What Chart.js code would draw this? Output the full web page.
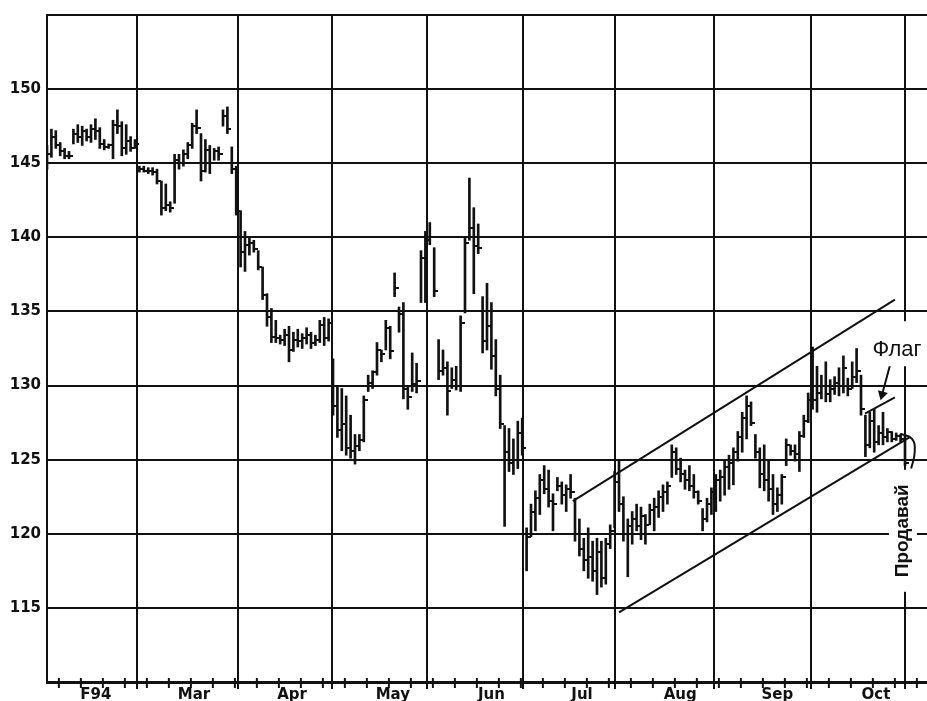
<!DOCTYPE html>
<html><head><meta charset="utf-8">
<script src="https://cdn.jsdelivr.net/npm/chart.js@4.4.0/dist/chart.umd.min.js"></script>
<style>html,body{margin:0;padding:0;background:#fff;overflow:hidden}canvas{display:block}</style>
</head><body><canvas id="c" width="927" height="701" style="width:927px;height:701px"></canvas>
<script>
// ---- axis labels / positions (trading-day index) ----
const monthLabels   = ['F94','Mar','Apr','May','Jun','Jul','Aug','Sep','Oct'];
const monthLabelPos = [11.1, 33.4, 55.7, 78.6, 101, 121.6, 143.9, 166, 188.4];
const monthLines    = [20.5, 43.4, 64.8, 86.4, 108.2, 129.1, 151.6, 173.6, 195];
const yTickLabels   = [115, 120, 125, 130, 135, 140, 145, 150];
const firstWeekTick = 2.7, weekStep = 5;

// ---- daily bars (Feb .. Oct 1994) ----
const highs = [
 146.2,147.3,147.2,146.4,146.0,145.8,147.3,147.6,147.5,147.3,147.6,148.0,147.4,146.6,146.3,147.9,148.6,147.8,147.6,146.8,146.6,
 144.8,144.8,144.7,144.7,144.6,143.8,143.6,142.4,145.6,145.6,145.9,146.4,147.7,148.6,147.0,146.6,146.2,146.0,146.1,148.6,148.8,146.1,144.8,
 141.8,140.4,140.0,139.8,139.1,138.0,136.2,135.2,134.4,133.4,133.8,134.0,133.6,133.8,133.5,133.9,133.6,133.4,134.4,134.6,134.5,
 131.8,130.0,129.8,129.3,128.0,126.7,126.7,129.3,130.7,131.0,132.9,132.4,134.4,134.0,137.6,135.3,135.6,130.0,132.2,131.5,139.1,140.4,
 141.0,139.3,133.1,132.4,131.6,131.2,131.3,134.7,140.0,144.0,142.0,140.9,136.0,136.9,135.6,133.1,130.7,127.3,127.1,126.4,127.6,127.8,
 120.4,122.0,122.9,124.0,124.6,124.3,122.7,123.8,123.5,123.3,124.0,122.4,121.0,119.7,120.4,119.5,119.7,119.5,119.7,120.6,124.2,
 124.9,122.5,121.0,121.5,122.0,121.8,121.3,122.0,122.4,122.9,123.3,123.5,126.0,125.8,125.1,124.3,124.6,124.0,122.9,121.7,122.4,123.1,
 124.0,124.3,124.9,125.3,125.8,126.9,128.2,129.3,128.9,126.7,125.8,126.0,124.9,124.0,123.1,124.0,126.4,126.0,126.0,126.9,128.0,129.5,
 132.6,131.3,130.7,131.6,130.4,130.6,131.2,132.0,130.5,131.6,132.5,130.7,128.0,128.2,128.4,127.3,128.2,127.1,126.9,126.8,126.7,126.6
];
const lows = [
 144.6,145.4,146.0,145.5,145.3,145.3,146.3,146.4,146.2,146.5,146.4,146.6,146.0,145.9,146.0,145.3,147.0,145.5,145.6,145.8,146.0,
 144.4,144.4,144.3,144.2,143.6,141.5,141.8,141.7,142.3,144.6,144.8,145.3,146.0,147.0,143.8,144.4,144.3,145.2,145.2,147.5,147.0,144.3,141.5,
 138.0,137.7,138.8,139.0,137.8,135.8,134.0,132.9,132.9,132.8,132.7,131.6,132.3,132.6,132.5,132.8,132.5,132.7,132.9,132.7,133.0,
 128.0,126.5,125.6,125.3,125.1,124.7,125.6,126.2,129.6,129.8,130.7,131.6,132.4,131.8,136.0,133.6,129.1,128.4,129.6,129.5,135.6,135.6,
 139.5,136.0,130.4,130.7,128.0,129.8,129.7,129.6,134.9,139.8,136.2,138.9,132.2,132.4,131.1,129.3,127.1,120.5,124.2,124.0,124.4,125.3,
 117.5,119.8,120.2,121.3,122.7,121.8,120.2,122.9,122.0,121.5,122.4,119.5,118.5,117.5,117.0,116.8,115.9,116.4,116.6,119.0,120.4,
 121.5,119.5,117.1,119.3,120.2,119.6,119.3,120.6,120.2,121.1,121.5,122.0,123.8,124.0,123.5,123.0,122.9,122.4,122.0,120.2,120.8,121.3,
 121.5,122.2,122.6,123.0,123.3,124.9,125.5,126.4,127.3,125.1,123.1,122.9,122.2,121.3,121.5,122.0,124.6,125.3,124.9,124.2,126.5,127.5,
 128.4,128.2,129.1,128.9,128.9,129.4,129.3,129.5,129.3,129.8,130.2,128.0,125.2,125.8,125.5,126.0,126.0,126.2,126.2,126.3,126.2,124.6
];
const closes = [
 145.6,146.8,146.2,145.8,145.5,145.5,147.0,146.8,147.2,146.8,147.3,147.2,146.3,146.1,146.2,147.6,147.5,146.0,146.5,146.0,146.3,
 144.6,144.5,144.5,144.4,143.8,142.0,142.2,142.0,145.2,145.0,145.6,146.2,147.5,147.4,144.5,145.9,145.0,145.8,145.6,148.2,147.3,144.6,141.8,
 139.0,139.5,139.6,139.2,138.0,136.1,134.6,133.3,133.2,133.1,133.4,132.4,133.1,133.0,133.2,133.4,132.9,133.1,134.1,133.2,134.2,
 128.6,127.0,127.4,125.8,125.6,125.9,126.3,129.0,130.2,130.9,132.4,132.1,133.9,132.3,136.6,134.8,129.8,129.2,130.1,130.3,138.6,139.8,
 140.0,136.4,131.0,131.2,129.6,130.4,130.0,134.2,139.6,140.6,139.4,139.3,133.0,134.0,132.0,129.8,127.4,125.5,124.8,125.0,126.8,125.8,
 119.8,121.5,122.4,123.6,123.0,122.2,122.0,123.2,122.6,123.0,122.8,120.0,119.0,118.2,118.4,117.5,118.8,117.0,119.3,120.2,123.5,
 122.0,120.0,120.5,121.0,120.5,121.2,120.6,121.6,121.8,122.5,122.8,123.2,125.5,124.4,124.0,123.6,123.2,122.8,122.2,121.0,122.0,122.8,
 123.6,123.8,124.5,124.8,125.5,126.5,127.8,128.6,127.5,125.5,124.0,123.6,123.0,122.0,122.6,123.8,126.0,125.6,125.4,126.6,127.6,129.0,
 129.0,129.5,130.0,129.4,129.8,130.2,130.0,131.2,129.8,130.6,131.0,128.4,126.0,127.6,126.2,126.8,126.5,126.9,126.4,126.6,126.4,124.8
];

// ---- annotations (data units) ----
const upperChannel = [{x:119.5,y:122.2},{x:192.7,y:135.8}];
const lowerChannel = [{x:130.0,y:114.7},{x:196.0,y:126.5}];
const flagTop      = [{x:185.9,y:128.1},{x:192.7,y:129.2}];
const flagArrow    = [{x:191.8,y:131.6},{x:189.8,y:129.4}];
const sellHook     = [{x:193.9,y:126.75},{x:196.6,y:126.4},{x:197.2,y:125.5},{x:196.4,y:124.4}];
const flagLabel = {text:'Флаг', x:193.2, y:132.45};
const sellLabel = {text:'Продавай', x:194.3, y:120.2};

const weekTicks = [];
for (let v = firstWeekTick; v < 200; v += weekStep) weekTicks.push(v);

const INK = '#111';
Chart.defaults.font.family = 'DejaVu Sans';
Chart.defaults.color = INK;

const tickImg = document.createElement('canvas');
tickImg.width = 8; tickImg.height = 2;
(function(){const t = tickImg.getContext('2d'); t.fillStyle = INK; t.fillRect(4,0,4,2);})();

const decor = {
  id: 'decor',
  afterDatasetsDraw(chart) {
    const {ctx, chartArea, scales} = chart;
    const x = scales.x, y = scales.y;
    ctx.save();
    ctx.strokeStyle = INK; ctx.lineWidth = 2;
    weekTicks.forEach(v => {
      const px = x.getPixelForValue(v);
      ctx.beginPath(); ctx.moveTo(px, chartArea.bottom - 4); ctx.lineTo(px, chartArea.bottom + 6); ctx.stroke();
    });
    // Флаг
    ctx.font = '22px "Liberation Sans", Arial, sans-serif';
    ctx.textAlign = 'center'; ctx.textBaseline = 'middle';
    let px = x.getPixelForValue(flagLabel.x), py = y.getPixelForValue(flagLabel.y);
    const w = ctx.measureText(flagLabel.text).width;
    ctx.fillStyle = '#fff';
    ctx.fillRect(px - w/2 - 4, py - 28, w + 8, 45);
    ctx.fillStyle = INK;
    ctx.fillText(flagLabel.text, px, py + 1);
    // Продавай (rotated)
    px = x.getPixelForValue(sellLabel.x); py = y.getPixelForValue(sellLabel.y);
    ctx.translate(px, py); ctx.rotate(-Math.PI/2);
    ctx.font = 'bold 19px "Liberation Sans", Arial, sans-serif';
    const L = 106;
    ctx.fillStyle = '#fff';
    ctx.fillRect(-L/2 - 8, -13, L + 16, 28);
    ctx.fillStyle = INK;
    ctx.fillText(sellLabel.text, 0, 1, L);
    ctx.restore();
  }
};

new Chart(document.getElementById('c'), {
  type: 'bar',
  data: {
    datasets: [
      {type:'bar', data: highs.map((h,i)=>({x:i, y:[lows[i], h]})), backgroundColor: INK,
       borderWidth: 0, barThickness: 2, grouped: false, xAxisID:'x', yAxisID:'y'},
      {type:'scatter', data: closes.map((c,i)=>({x:i, y:c})), pointStyle: tickImg, pointRadius: 4,
       xAxisID:'x', yAxisID:'y'},
      {type:'line', data: upperChannel, borderColor: INK, borderWidth: 2, pointRadius: 0, xAxisID:'x', yAxisID:'y'},
      {type:'line', data: lowerChannel, borderColor: INK, borderWidth: 2, pointRadius: 0, xAxisID:'x', yAxisID:'y'},
      {type:'line', data: flagTop, borderColor: INK, borderWidth: 2, pointRadius: 0, xAxisID:'x', yAxisID:'y'},
      {type:'line', data: flagArrow, borderColor: INK, borderWidth: 2, xAxisID:'x', yAxisID:'y',
       pointStyle:'triangle', pointRadius:[0,4], pointRotation:[0,195], pointBackgroundColor: INK, pointBorderColor: INK},
      {type:'line', data: sellHook, borderColor: INK, borderWidth: 2, pointRadius: 0, tension: 0.45, xAxisID:'x', yAxisID:'y'}
    ]
  },
  options: {
    responsive: false, maintainAspectRatio: false, animation: false, devicePixelRatio: 1,
    layout: {autoPadding: false, padding: {top: 11, left: 0, right: 0, bottom: 0}},
    plugins: {legend: {display:false}, tooltip: {enabled:false}},
    scales: {
      x: {
        type:'linear', min:0, max:200, position:'bottom', offset:false,
        afterBuildTicks: s => { s.ticks = monthLines.map(v => ({value:v})); },
        ticks: {display:false},
        grid: {offset:false, color: INK, lineWidth: 2, drawTicks: true, tickLength: 7, tickColor: INK, tickWidth: 2},
        border: {display:true, color: INK, width: 3},
        afterFit: s => { s.height = 0; }
      },
      xLab: {
        type:'linear', min:0, max:200, position:'bottom', offset:false,
        afterBuildTicks: s => { s.ticks = monthLabelPos.map(v => ({value:v})); },
        ticks: {autoSkip:false, maxRotation:0, padding: -4, color: INK,
                font: {size: 15, weight: 'bold'},
                callback: (v, i) => monthLabels[i]},
        grid: {display:false, offset:false}, border: {display:false},
        afterFit: s => { s.height = 19; }
      },
      y: {
        type:'linear', min:110, max:155, position:'left',
        ticks: {stepSize:5, padding: 6, color: INK, font: {size: 15, weight: 'bold'},
                callback: v => yTickLabels.includes(v) ? String(v) : ''},
        grid: {color: INK, lineWidth: 2, drawTicks: false},
        border: {display:true, color: INK, width: 2},
        afterFit: s => { s.width = 47; }
      }
    }
  },
  plugins: [decor]
});
</script>
</body></html>
